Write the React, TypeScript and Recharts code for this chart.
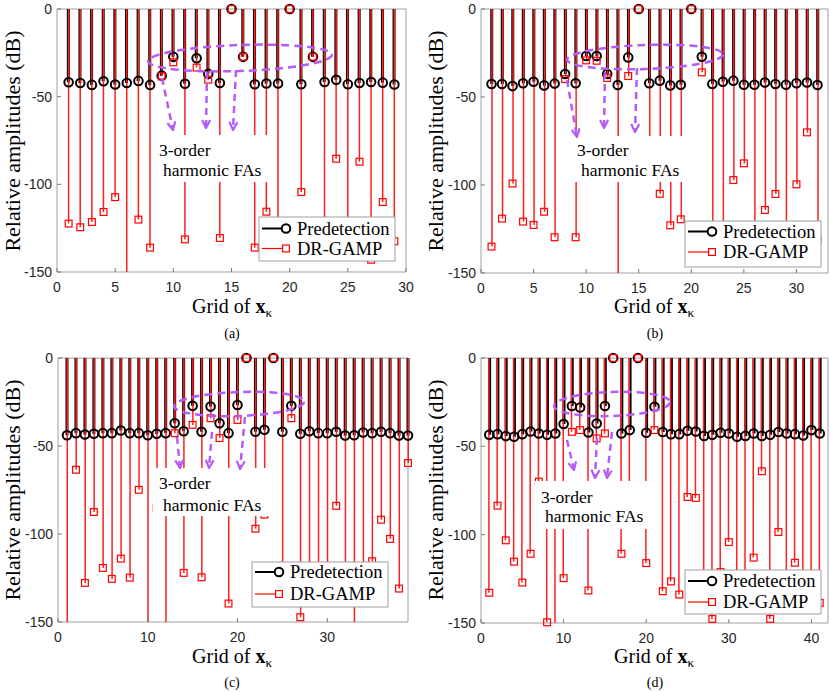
import React from "react";
import { ComposedChart, Bar, Scatter, XAxis, YAxis, ReferenceArea } from "recharts";

// (a) 29 grid points
const preA = [-41.8, -42.2, -43.3, -41.2, -43.1, -42.2, -41.0, -43.3, -38.0, -27.3, -42.7, -28.1, -37.0, -42.2, 0, -27.3, -42.9, -42.5, -42.5, 0, -42.9, -27.3, -41.6, -40.4, -42.9, -42.2, -41.6, -42.0, -43.1];
const drA = [-122.4, -124.5, -121.5, -115.8, -107.3, -160, -120.1, -136.1, -38.4, -30.4, -131.4, -33.4, -40.3, -130.6, 0, -27.3, -136.1, -115.6, -135, 0, -104.4, -27.3, -135, -85.4, -130, -87.1, -143, -110.1, -132.5];

// (b) 32 grid points
const preB = [-42.6, -42.6, -43.8, -42.2, -41.3, -43.4, -42.4, -36.9, -42.2, -26.7, -26.7, -36.9, -43.2, -27.5, 0, -42.2, -40.7, -43.4, -43.0, 0, -27.1, -42.6, -41.3, -40.7, -43.0, -43.0, -41.8, -42.6, -43.0, -42.2, -41.8, -43.2];
const drB = [-135, -119.1, -99.2, -120.8, -122.7, -115.2, -129.7, -39.8, -129.7, -29.2, -29.4, -39.2, -160, -38.1, 0, -88, -105, -122.9, -119.5, 0, -36, -140, -140, -97.2, -87.7, -140, -114.2, -105.1, -140, -99.6, -70.1, -130.9];

// (c) 39 grid points
const preC = [-43.9, -42.7, -43.5, -43.1, -42.7, -42.7, -41.2, -42.7, -42.7, -43.9, -43.1, -42.7, -37.1, -41.6, -27.2, -41.9, -27.6, -37.1, -42.7, -26.7, 0, -41.9, -40.8, 0, -41.9, -27.2, -43.1, -41.6, -42.7, -42.7, -41.9, -44.1, -43.9, -42.3, -42.7, -41.9, -42.7, -44.1, -44.1];
const drC = [-160, -63.5, -127.8, -87.5, -119.3, -125.5, -114, -124.8, -74.9, -160, -85, -160, -42.7, -122.1, -38, -124.6, -34.2, -45.5, -139.5, -35.2, 0, -97, -89, 0, -133, -34.2, -147.3, -133, -133, -133, -84, -133, -160, -133, -115.5, -91.9, -102.8, -131, -59.7];

// (d) 41 grid points
const preD = [-43.5, -43.1, -44.2, -44.6, -43.1, -41.6, -42.7, -43.5, -42.7, -37.4, -27.2, -28.0, -42.2, -37.1, -27.2, 0, -42.7, -40.8, 0, -42.3, -27.6, -41.9, -43.1, -43.1, -41.2, -41.6, -44.1, -43.5, -42.3, -42.7, -44.6, -44.1, -42.7, -44.1, -43.5, -41.9, -42.7, -43.1, -43.9, -40.8, -42.7];
const drD = [-132.9, -83.6, -103.2, -115.3, -127.1, -110.8, -70, -149.6, -160, -124.6, -41.8, -40.8, -131.6, -45.5, -42.7, 0, -110.8, -85, 0, -116.1, -40.8, -132, -126.5, -133.9, -78.7, -79.2, -140, -147.7, -121.2, -104.2, -140, -140, -113, -64.1, -147.7, -98.5, -140, -115.9, -140, -140, -138.6];

const ticksAB = [0, 5, 10, 15, 20, 25, 30];
const ticksC = [0, 10, 20, 30];
const ticksD = [0, 10, 20, 30, 40];
const yTicks = [0, -50, -100, -150];

const SERIF = "'Liberation Serif', 'Times New Roman', serif";
const SANS = "'Liberation Sans', Arial, sans-serif";
const PURPLE = "#b45cf7";
const FRAME = "#a0a0a0";

const PAD_L = 57;
const PAD_T = 9;
const PAD_R = 12;
const PAD_B = 30;

type Box = { l: number; t: number; r: number; b: number };

const Circle = (p: any) => {
  if (!Number.isFinite(p.cx) || !Number.isFinite(p.cy)) return null;
  return <circle cx={p.cx} cy={p.cy} r={4.3} fill="none" stroke="#000" strokeWidth={2} />;
};

const Square = (p: any) => {
  if (!Number.isFinite(p.cx) || !Number.isFinite(p.cy)) return null;
  return <rect x={p.cx - 3.4} y={p.cy - 3.4} width={6.8} height={6.8} fill="none" stroke="#ff0000" strokeWidth={1.2} />;
};

function Panel({ box, pre, dr, xMax, xTicks }: { box: Box; pre: number[]; dr: number[]; xMax: number; xTicks: number[] }) {
  const rows = pre.map((v, i) => ({ k: i + 1, pre: v, dr: dr[i] }));
  const width = box.r - box.l + PAD_L + PAD_R;
  const height = box.b - box.t + PAD_T + PAD_B;
  const inRange = (v: number) => (v >= -150 ? v : undefined);
  return (
    <div style={{ position: "absolute", left: box.l - PAD_L, top: box.t - PAD_T }}>
      <ComposedChart width={width} height={height} data={rows} margin={{ top: PAD_T, right: PAD_R, bottom: 0, left: 0 }}>
        <XAxis
          xAxisId="blk"
          dataKey="k"
          type="number"
          domain={[0, xMax]}
          ticks={xTicks}
          interval={0}
          height={PAD_B}
          axisLine={false}
          tickSize={-4}
          tickMargin={14}
          tickLine={{ stroke: "#777" }}
          tick={{ fill: "#262626", fontSize: 14, fontFamily: SANS }}
        />
        <XAxis xAxisId="red" dataKey="k" type="number" domain={[0, xMax]} hide height={0} orientation="top" />
        <YAxis
          yAxisId="y"
          type="number"
          domain={[-150, 0]}
          ticks={yTicks}
          allowDataOverflow
          width={PAD_L}
          axisLine={false}
          tickSize={-4}
          tickMargin={9}
          tickLine={{ stroke: "#777" }}
          tick={{ fill: "#262626", fontSize: 14, fontFamily: SANS }}
        />
        <YAxis yAxisId="pts" type="number" domain={[-150, 0]} hide width={0} orientation="right" />
        <ReferenceArea xAxisId="blk" yAxisId="y" x1={0} x2={xMax} y1={-150} y2={0} fill="none" stroke={FRAME} strokeWidth={1} ifOverflow="visible" />
        <Bar xAxisId="blk" yAxisId="y" dataKey={(d: any) => [d.pre, 0]} barSize={3} fill="#000" isAnimationActive={false} />
        <Bar xAxisId="red" yAxisId="y" dataKey={(d: any) => [d.dr, 0]} barSize={1.5} fill="#ff2020" isAnimationActive={false} />
        <Scatter xAxisId="blk" yAxisId="pts" dataKey={(d: any) => inRange(d.pre)} shape={Circle} isAnimationActive={false} />
        <Scatter xAxisId="blk" yAxisId="pts" dataKey={(d: any) => inRange(d.dr)} shape={Square} isAnimationActive={false} />
      </ComposedChart>
    </div>
  );
}

function LegendBox({ x, y, w, h, r1, r2 }: { x: number; y: number; w: number; h: number; r1: number; r2: number }) {
  return (
    <g>
      <rect x={x} y={y} width={w} height={h} fill="#fff" stroke={FRAME} strokeWidth={1} />
      <line x1={x + 3} x2={x + 28} y1={y + r1} y2={y + r1} stroke="#000" strokeWidth={2} />
      <circle cx={x + 27} cy={y + r1} r={4.3} fill="#fff" stroke="#000" strokeWidth={2} />
      <text x={x + 38} y={y + r1} dominantBaseline="central" fontSize={18.5} fontFamily={SERIF} fill="#000">
        Predetection
      </text>
      <line x1={x + 3} x2={x + 28} y1={y + r2} y2={y + r2} stroke="#ff0000" strokeWidth={1.2} />
      <rect x={x + 23.6} y={y + r2 - 3.4} width={6.8} height={6.8} fill="#fff" stroke="#ff0000" strokeWidth={1.2} />
      <text x={x + 38} y={y + r2} dominantBaseline="central" fontSize={18.5} fontFamily={SERIF} fill="#000">
        DR-GAMP
      </text>
    </g>
  );
}

type Note = {
  ell: [number, number, number, number, number];
  arrows: [number, number, number, number][];
  box: [number, number, number, number];
  t1: [number, number];
  t2: [number, number];
};

function Annotation({ n }: { n: Note }) {
  const [cx, cy, rx, ry, rot] = n.ell;
  const [bx, by, bw, bh] = n.box;
  return (
    <g>
      <rect x={bx} y={by} width={bw} height={bh} fill="#fff" />
      <text x={n.t1[0]} y={n.t1[1]} dominantBaseline="central" fontSize={17.5} fontFamily={SERIF} fill="#000">
        3-order
      </text>
      <text x={n.t2[0]} y={n.t2[1]} dominantBaseline="central" fontSize={17.5} fontFamily={SERIF} fill="#000">
        harmonic FAs
      </text>
      <ellipse cx={cx} cy={cy} rx={rx} ry={ry} transform={`rotate(${rot} ${cx} ${cy})`} fill="none" stroke={PURPLE} strokeWidth={2.5} strokeDasharray="8 5" />
      {n.arrows.map(([x1, y1, x2, y2], i) => (
        <line key={i} x1={x1} y1={y1} x2={x2} y2={y2} stroke={PURPLE} strokeWidth={2.5} strokeDasharray="7 5" markerEnd="url(#chev)" />
      ))}
    </g>
  );
}

const notes: Note[] = [
  { ell: [240, 58, 92, 13, -2], arrows: [[162, 78, 173, 130], [207, 72, 206, 128], [236, 70, 233, 130]], box: [155, 135, 116, 47], t1: [159, 150], t2: [163, 170] },
  { ell: [645, 57, 78, 12, -2], arrows: [[567, 80, 577, 137], [605, 72, 604, 128], [637, 68, 635, 132]], box: [572, 136, 116, 46], t1: [577, 150], t2: [581, 170] },
  { ell: [239, 404, 65, 12, -2], arrows: [[177, 437, 180, 468], [212, 432, 209, 468], [245, 417, 240, 469]], box: [153, 468, 117, 48], t1: [159, 483], t2: [163, 505] },
  { ell: [612, 404, 58, 12, -2], arrows: [[567, 440, 574, 470], [597, 438, 595, 478], [612, 432, 607, 478]], box: [535, 481, 117, 48], t1: [541, 497], t2: [545, 516] },
];

function XLabel({ x, y }: { x: number; y: number }) {
  return (
    <text x={x} y={y} textAnchor="middle" fontSize={20} fontFamily={SERIF} fill="#000">
      Grid of <tspan fontWeight="bold">x</tspan>
      <tspan fontSize={13} dy={4}>κ</tspan>
    </text>
  );
}

function YLabel({ x, y }: { x: number; y: number }) {
  return (
    <text transform={`translate(${x} ${y}) rotate(-90)`} textAnchor="middle" dominantBaseline="central" fontSize={22} fontFamily={SERIF} fill="#000">
      Relative amplitudes (dB)
    </text>
  );
}

function Caption({ x, y, s }: { x: number; y: number; s: string }) {
  return (
    <text x={x} y={y} textAnchor="middle" fontSize={14} fontFamily={SERIF} fill="#000">
      {s}
    </text>
  );
}

export default function App() {
  return (
    <div style={{ position: "absolute", left: 0, top: 0, width: 831, height: 692, background: "#fff", overflow: "hidden" }}>
      <Panel box={{ l: 57, t: 9, r: 406, b: 272 }} pre={preA} dr={drA} xMax={30} xTicks={ticksAB} />
      <Panel box={{ l: 481, t: 9, r: 828, b: 273 }} pre={preB} dr={drB} xMax={33} xTicks={ticksAB} />
      <Panel box={{ l: 58, t: 358, r: 408, b: 622 }} pre={preC} dr={drC} xMax={39} xTicks={ticksC} />
      <Panel box={{ l: 481, t: 358, r: 828, b: 623 }} pre={preD} dr={drD} xMax={42} xTicks={ticksD} />
      <svg width={831} height={692} style={{ position: "absolute", left: 0, top: 0, pointerEvents: "none" }}>
        <defs>
          <marker id="chev" viewBox="0 0 10 10" refX={9} refY={5} markerWidth={10} markerHeight={10} markerUnits="userSpaceOnUse" orient="auto">
            <path d="M1,1 L9,5 L1,9" fill="none" stroke={PURPLE} strokeWidth={2.2} />
          </marker>
        </defs>
        {notes.map((n, i) => (
          <Annotation key={i} n={n} />
        ))}
        <LegendBox x={259} y={217} w={136} h={44} r1={11.5} r2={31.5} />
        <LegendBox x={685} y={221} w={136} h={46} r1={10.5} r2={31} />
        <LegendBox x={252} y={562} w={136} h={45} r1={10} r2={32} />
        <LegendBox x={685} y={570} w={136} h={44} r1={11} r2={32} />
        <YLabel x={12} y={141} />
        <YLabel x={435} y={141} />
        <YLabel x={12} y={490} />
        <YLabel x={435} y={490} />
        <XLabel x={232} y={313} />
        <XLabel x={654} y={313} />
        <XLabel x={232} y={663} />
        <XLabel x={654} y={663} />
        <Caption x={232} y={338} s="(a)" />
        <Caption x={655} y={338} s="(b)" />
        <Caption x={232} y={687} s="(c)" />
        <Caption x={655} y={687} s="(d)" />
      </svg>
    </div>
  );
}
